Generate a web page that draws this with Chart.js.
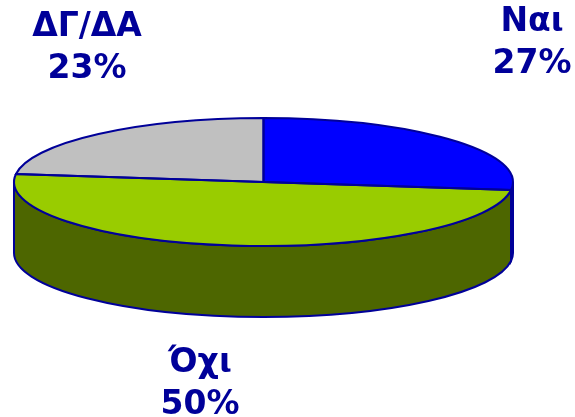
<!DOCTYPE html>
<html>
<head>
<meta charset="utf-8">
<script src="https://cdn.jsdelivr.net/npm/chart.js@4"></script>
<style>
    html, body { margin: 0; padding: 0; background: #fff; }
    canvas { display: block; }
</style>
</head>
<body>
<canvas id="pie" width="575" height="417"></canvas>
<script>
const categories = ['Ναι', 'Όχι', 'ΔΓ/ΔΑ'];
const shares = [27, 50, 23];
const topColors = ['#0000ff', '#99cc00', '#c0c0c0'];
const sideColors = ['#000099', '#4d6600', '#606060'];
const labelAnchors = [[532, 31], [200, 372], [87, 36]];

const outline = '#000099';
const centerX = 263.5, centerY = 182, radiusX = 249.5, radiusY = 64, depth = 71;
const penWidth = 2, lineGap = 42;

// squash the flat pie into the ellipse of the disc top
function applyTilt(ctx, arc) {
    ctx.translate(centerX, centerY);
    ctx.scale(radiusX / arc.outerRadius, radiusY / arc.outerRadius);
    ctx.translate(-arc.x, -arc.y);
}

const tiltedPie = {
    id: 'tiltedPie',
    beforeDatasetsDraw(chart) {
        const ctx = chart.ctx;
        const arcs = chart.getDatasetMeta(0).data;
        // side wall, only the front half of the rim shows
        arcs.forEach((arc, i) => {
            const from = Math.max(arc.startAngle, 0);
            const to = Math.min(arc.endAngle, Math.PI);
            if (from >= to) return;
            ctx.beginPath();
            ctx.ellipse(centerX, centerY, radiusX, radiusY, 0, from, to);
            ctx.lineTo(centerX + radiusX * Math.cos(to), centerY + radiusY * Math.sin(to) + depth);
            ctx.ellipse(centerX, centerY + depth, radiusX, radiusY, 0, to, from, true);
            ctx.closePath();
            ctx.fillStyle = sideColors[i];
            ctx.fill();
            ctx.lineWidth = penWidth;
            ctx.strokeStyle = outline;
            ctx.stroke();
        });
        ctx.save();
        applyTilt(ctx, arcs[0]);
    },
    afterDatasetsDraw(chart) {
        const ctx = chart.ctx;
        const arcs = chart.getDatasetMeta(0).data;
        ctx.restore();
        // outlines go on after the restore so the pen stays round
        arcs.forEach(arc => {
            ctx.beginPath();
            ctx.moveTo(centerX, centerY);
            ctx.ellipse(centerX, centerY, radiusX, radiusY, 0, arc.startAngle, arc.endAngle);
            ctx.closePath();
            ctx.lineWidth = penWidth;
            ctx.strokeStyle = outline;
            ctx.stroke();
        });
        ctx.fillStyle = outline;
        ctx.font = 'bold 33px "DejaVu Sans"';
        ctx.textAlign = 'center';
        ctx.textBaseline = 'alphabetic';
        categories.forEach((name, i) => {
            const [x, y] = labelAnchors[i];
            ctx.fillText(name, x, y);
            ctx.fillText(shares[i] + '%', x, y + lineGap);
        });
    }
};

new Chart(document.getElementById('pie'), {
    type: 'pie',
    data: {
        labels: categories,
        datasets: [{
            data: shares,
            backgroundColor: topColors,
            borderWidth: 0
        }]
    },
    options: {
        responsive: false,
        animation: false,
        plugins: {
            legend: { display: false },
            tooltip: { enabled: false }
        }
    },
    plugins: [tiltedPie]
});
</script>
</body>
</html>
